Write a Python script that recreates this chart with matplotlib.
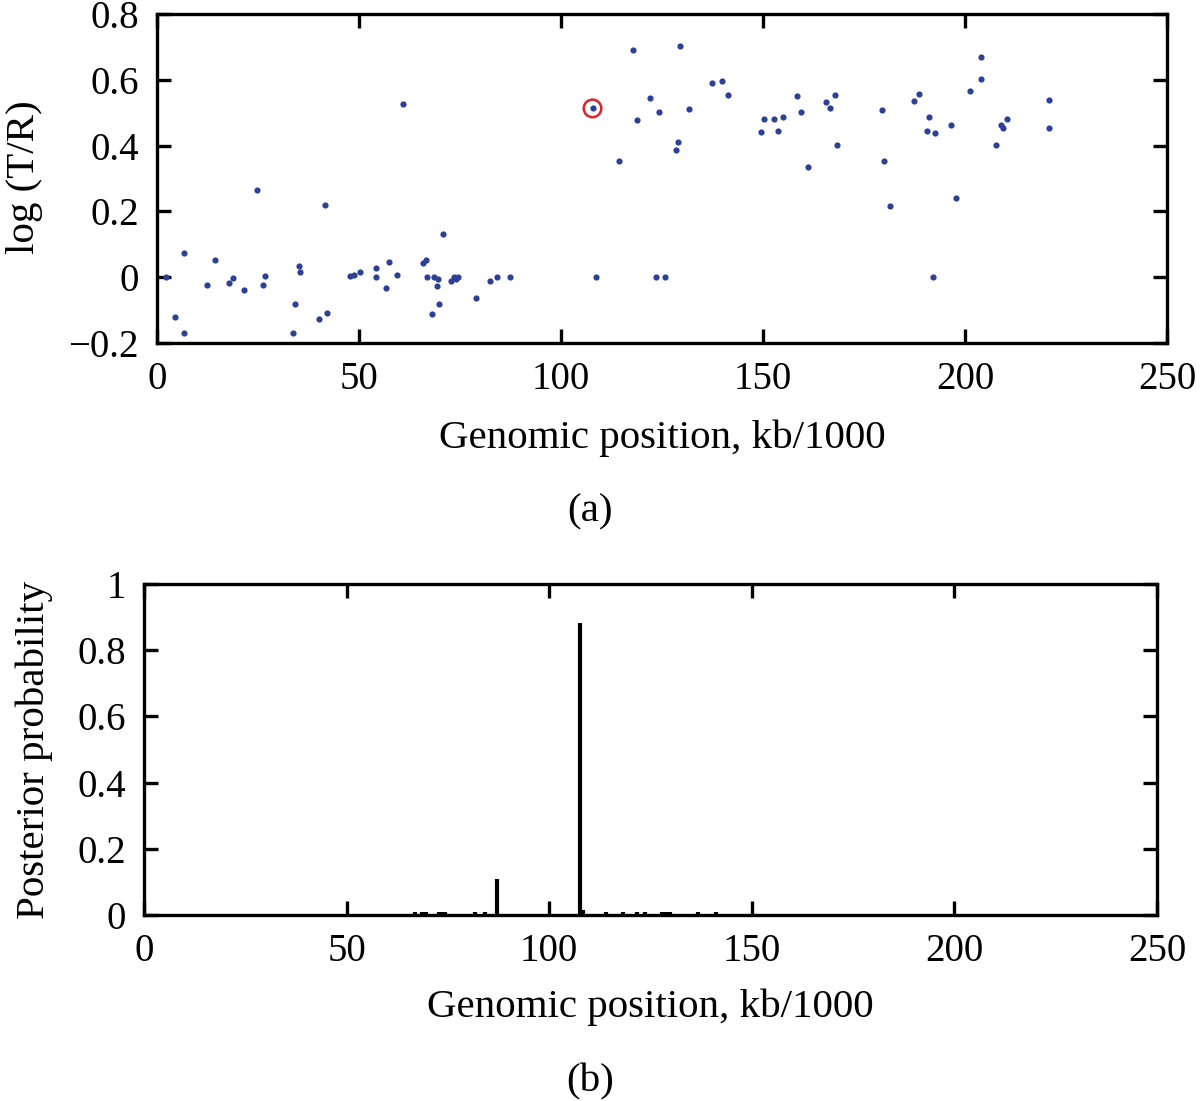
import matplotlib
matplotlib.use("Agg")
import matplotlib.pyplot as plt
import numpy as np

# ---- data: panel (a) ----
pos_a = [2.2, 4.5, 6.6, 6.8, 12.3, 14.4, 17.7, 18.7, 21.5, 24.7, 26.2, 26.8,
         33.6, 34.2, 35.1, 35.4, 40.0, 41.5, 42.2, 47.7, 48.8, 50.2, 54.2, 54.3,
         56.8, 57.5, 59.5, 60.9, 65.9, 66.5, 66.8, 68.1, 68.5, 69.2, 69.6, 69.7,
         70.8, 72.7, 73.4, 74.0, 74.4, 79.0, 82.4, 84.1, 87.3,
         107.8, 108.7, 114.4, 117.7, 118.7, 122.1, 123.6, 124.2, 125.7, 128.4,
         128.9, 129.5, 131.8, 137.3, 139.8, 141.3, 149.6, 150.2, 152.7, 153.8,
         155.0, 158.5, 159.4, 161.1, 165.5, 166.7, 167.7, 168.2, 179.4, 179.9,
         181.4, 187.3, 188.7, 190.6, 191.0, 192.0, 192.5, 196.5, 197.8, 201.3,
         203.9, 203.9, 207.7, 208.8, 209.5, 210.3, 220.8, 220.9]
logTR = [0.0, -0.122, -0.171, 0.073, -0.025, 0.052, -0.017, -0.003, -0.040, 0.266,
         -0.023, 0.004, -0.170, -0.082, 0.034, 0.015, -0.128, 0.219, -0.108, 0.005,
         0.007, 0.016, 0.028, 0.001, -0.032, 0.046, 0.006, 0.526, 0.044, 0.052,
         0.001, -0.112, 0.001, -0.028, -0.004, -0.082, 0.132, -0.011, 0.001, -0.006,
         0.001, -0.063, -0.013, 0.001, 0.0,
         0.513, 0.0, 0.353, 0.691, 0.478, 0.546, 0.0, 0.503, 0.0, 0.387,
         0.410, 0.702, 0.510, 0.589, 0.595, 0.554, 0.440, 0.480, 0.480, 0.445,
         0.486, 0.551, 0.501, 0.334, 0.532, 0.514, 0.554, 0.403, 0.509, 0.353,
         0.217, 0.536, 0.558, 0.445, 0.487, 0.0, 0.438, 0.462, 0.242, 0.566,
         0.602, 0.668, 0.403, 0.462, 0.452, 0.480, 0.538, 0.453]
highlight_pos = [107.8]
highlight_val = [0.513]

# ---- data: panel (b) ----
pos_b = [66.8, 68.5, 69.6, 72.7, 73.4, 74.4, 81.7, 84.1, 87.1, 107.5, 108.3,
         114.1, 118.3, 121.6, 123.7, 127.8, 128.9, 129.7, 136.8, 141.2]
post_prob = [0.008, 0.008, 0.008, 0.008, 0.008, 0.008, 0.008, 0.008, 0.108, 0.882,
             0.014, 0.009, 0.008, 0.008, 0.008, 0.008, 0.008, 0.008, 0.008, 0.008]

xticks = [0, 50, 100, 150, 200, 250]
yticks_a = [-0.2, 0, 0.2, 0.4, 0.6, 0.8]
yticklabels_a = ["\u22120.2", "0", "0.2", "0.4", "0.6", "0.8"]
yticks_b = [0, 0.2, 0.4, 0.6, 0.8, 1]
yticklabels_b = ["0", "0.2", "0.4", "0.6", "0.8", "1"]

plt.rcParams['font.family'] = ['Liberation Serif', 'DejaVu Serif']
FS_T = 28
FS_L = 29.5

fig = plt.figure(figsize=(12, 11.01), dpi=100)

def style(ax):
    for s in ax.spines.values():
        s.set_linewidth(2.4)
    ax.tick_params(direction='in', length=10, width=2.4, labelsize=FS_T,
                   top=True, right=True, pad=13)

ax1 = fig.add_axes([157/1200, 1-343/1101, 1010/1200, 329/1101])
ax1.scatter(pos_a, logTR, s=20, color='#2E3F96', linewidths=0, zorder=3)
ax1.scatter(highlight_pos, highlight_val, s=160, facecolors='none',
            edgecolors='#E0202A', linewidths=1.8, zorder=4)
ax1.set_xlim(0, 250)
ax1.set_ylim(-0.2, 0.8)
ax1.set_xticks(xticks)
ax1.set_yticks(yticks_a)
ax1.set_yticklabels(yticklabels_a)
ax1.set_xlabel("Genomic position, kb/1000", fontsize=FS_L, va='center')
ax1.set_ylabel("log (T/R)", fontsize=FS_L, va='center')
ax1.xaxis.set_label_coords(0.5, -0.29)
ax1.yaxis.set_label_coords(-0.131, 0.505)
style(ax1)

ax2 = fig.add_axes([144/1200, 1-915/1101, 1013/1200, 331/1101])
ax2.vlines(pos_b, 0, post_prob, colors='black', linewidth=3)
ax2.set_xlim(0, 250)
ax2.set_ylim(0, 1)
ax2.set_xticks(xticks)
ax2.set_yticks(yticks_b)
ax2.set_yticklabels(yticklabels_b)
ax2.set_xlabel("Genomic position, kb/1000", fontsize=FS_L, va='center')
ax2.set_ylabel("Posterior probability", fontsize=FS_L, va='center')
ax2.xaxis.set_label_coords(0.5, -0.28)
ax2.yaxis.set_label_coords(-0.108, 0.5)
style(ax2)

fig.text(590/1200, 1-512/1101, "(a)", fontsize=FS_L, ha='center', va='center')
fig.text(590/1200, 1-1082/1101, "(b)", fontsize=FS_L, ha='center', va='center')

fig.savefig("out.png", dpi=100)
